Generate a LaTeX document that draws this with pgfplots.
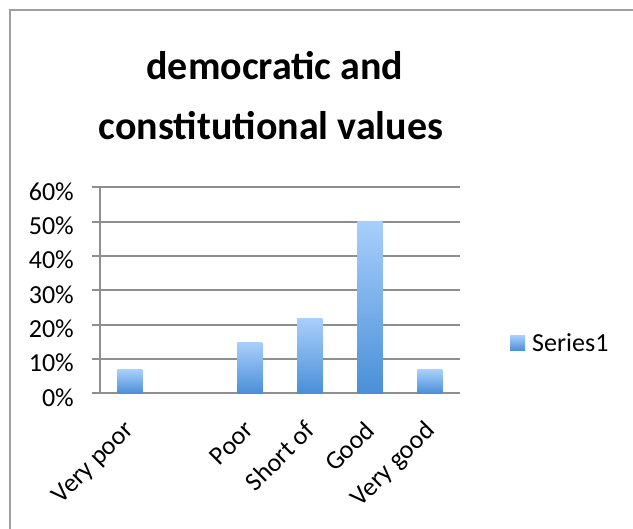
\documentclass[border=0pt]{standalone}
\usepackage{fontspec}
\setmainfont{Carlito}
\usepackage{pgfplots}
\pgfplotsset{compat=1.18}
\definecolor{barTop}{HTML}{A8CEFB}
\definecolor{barBot}{HTML}{4A8FD8}
\definecolor{gridGray}{HTML}{8E8E8E}
\definecolor{frameGray}{HTML}{A0A0A0}

\begin{document}
\begin{tikzpicture}[x=1pt,y=1pt]
\useasboundingbox (0,0) rectangle (633,529);
\fill[white] (0,0) rectangle (633,529);
\draw[frameGray, line width=2pt] (10,0) -- (10,519) -- (633,519);

\begin{axis}[
  at={(100pt,135.7pt)}, anchor=south west,
  scale only axis, width=360pt, height=206pt,
  ybar, bar width=25pt, bar shift=0pt,
  xmin=-0.5, xmax=5.5, ymin=0, ymax=60,
  axis x line*=bottom, axis y line*=left,
  axis line style={gridGray, line width=2pt},
  tick align=outside, major tick length=8pt,
  tick style={gridGray, line width=2pt},
  xtick={0,...,5},
  xticklabels={Very poor,,Poor,Short of,Good,Very good},
  x tick style={draw=none},
  extra x ticks={-0.5,0.5,1.5,2.5,3.5,4.5,5.5},
  extra x tick labels={},
  extra x tick style={grid=none, tick style={gridGray, line width=2pt, draw=gridGray}},
  xticklabel style={xshift=-7pt, rotate=45, anchor=north east, inner sep=0pt},
  xticklabel shift=18pt,
  ytick={0,10,...,60},
  yticklabels={0\%,10\%,20\%,30\%,40\%,50\%,60\%},
  yticklabel style={anchor=east, inner sep=0pt, yshift=-4pt},
  yticklabel shift=18pt,
  ymajorgrids, grid style={gridGray, line width=2pt},
  tick label style={font=\fontsize{26}{30}\selectfont},
  legend style={at={(1.139,0.244)}, anchor=west, draw=none, fill=none,
    font=\fontsize{26}{30}\selectfont, inner sep=0pt, column sep=5pt},
  legend image code/.code={\shade[top color=barTop, bottom color=barBot] (0pt,-7.5pt) rectangle (15pt,7.5pt);},
  every axis plot/.append style={draw=none, top color=barTop, bottom color=barBot},
]
% one plot per bar so that each bar gets its own gradient
\addplot coordinates {(0,6.8)};
\addlegendentry{Series1}
\addplot[forget plot] coordinates {(2,14.7)};
\addplot[forget plot] coordinates {(3,21.7)};
\addplot[forget plot] coordinates {(4,50.0)};
\addplot[forget plot] coordinates {(5,6.8)};
\end{axis}

\node[anchor=base, inner sep=0pt, font=\fontsize{40}{48}\bfseries] at (275,449) {democratic and};
\node[anchor=base, inner sep=0pt, font=\fontsize{40}{48}\bfseries] at (271,389) {constitutional values};
\end{tikzpicture}
\end{document}
